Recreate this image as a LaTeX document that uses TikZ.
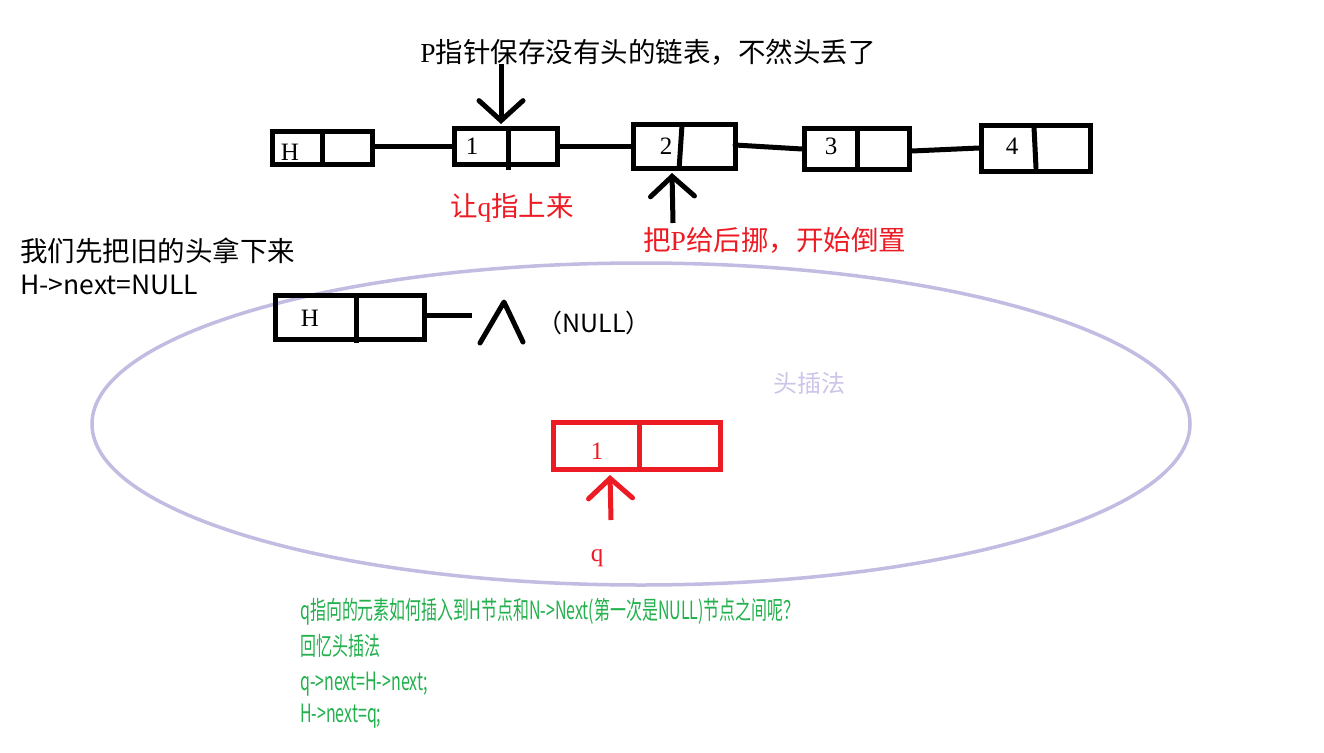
\documentclass[tikz,border=0pt]{standalone}
\usepackage{fontspec}
\usetikzlibrary{arrows.meta,calc}
\newfontfamily\cjk{Noto Sans CJK SC}
\newfontfamily\lat{Liberation Serif}
\definecolor{myred}{RGB}{237,28,36}
\definecolor{mygreen}{RGB}{34,177,76}
\definecolor{lav}{RGB}{195,187,225}
\definecolor{lavtext}{RGB}{205,196,232}
\tikzset{
  listbox/.style={draw=black, line width=5pt, rectangle, inner sep=0pt},
  redbox/.style={draw=myred, line width=5pt, rectangle, inner sep=0pt},
  link/.style={line width=5pt},
  stickarrow/.style={line width=5pt, -{Straight Barb[length=20pt,width=44pt,line cap=round]}},
  digit/.style={font=\lat\fontsize{25}{28}\selectfont, inner sep=0pt},
  blacktext/.style={font=\cjk\fontsize{27.5}{30}\selectfont, inner sep=0pt, anchor=west},
  redtext/.style={font=\cjk\fontsize{27.5}{30}\selectfont, text=myred, inner sep=0pt, anchor=west},
  greentext/.style={font=\cjk\fontsize{21}{24}\selectfont, text=mygreen, inner sep=0pt, anchor=west},
}
\begin{document}
\begin{tikzpicture}[x=1pt,y=-1pt]
\useasboundingbox (0,0) rectangle (1324,752);
\fill[white] (0,0) rectangle (1324,752);

% ellipse (head insertion area)
\draw[lav, line width=3.5pt] (641,424) ellipse [x radius=549, y radius=161];
\node[font=\cjk\fontsize{24}{28}\selectfont, text=lavtext, inner sep=0pt] (lbl) at (809,383) {头插法};

% top list
\node[listbox, minimum width=100, minimum height=33] (h1) at (322.5,148) {};
\draw[line width=5pt] (322,131) -- (322,165);
\node[digit] (th1) at (290,152) {H};

\node[listbox, minimum width=103, minimum height=36] (n1) at (506,146.5) {};
\draw[line width=5pt] (508,128) -- (508,170);
\node[digit] (t1) at (472,146) {1};

\node[listbox, minimum width=102, minimum height=44] (n2) at (684.5,146.5) {};
\draw[line width=5pt] (682,125) -- (679,170);
\node[digit] (t2) at (666,146) {2};

\node[listbox, minimum width=105, minimum height=41] (n3) at (857,149) {};
\draw[line width=5pt] (857,128) -- (857,171);
\node[digit] (t3) at (831,146) {3};

\node[listbox, minimum width=109, minimum height=46] (n4) at (1036,148.5) {};
\draw[line width=5pt, line cap=round] (1034,127) -- (1036,168);
\node[digit] (t4) at (1012,146) {4};

\draw[link] (h1.east |- 0,146) -- (n1.west |- 0,146);
\draw[link] (n1.east |- 0,146) -- (n2.west |- 0,146);
\draw[link, line cap=round] (735,145) -- (n3.west |- 0,149);
\draw[link] (n3.east |- 0,151) -- (n4.west |- 0,148);

% top label and arrow
\node[font=\cjk\fontsize{27.5}{30}\selectfont, inner sep=0pt] (ptxt) at (648,52) {{\lat P}指针保存没有头的链表，不然头丢了};
\coordinate (pa) at (501,64);
\coordinate (pb) at (501,124);
\draw[stickarrow] (pa) -- (pb);

% red label under node 1
\node[redtext] (qup) at (450,208) {让{\lat q}指上来};

% arrow up to node 2
\coordinate (qa) at (673,223);
\coordinate (qb) at (672,173);
\draw[stickarrow] (qa) -- (qb);
\node[redtext] (pmove) at (643,240) {把{\lat P}给后挪，开始倒置};

% left texts
\node[blacktext] (old) at (20,251) {我们先把旧的头拿下来};
\node[blacktext, font=\cjk\fontsize{26.5}{28}\selectfont] (hnull) at (20,285) {H->next=NULL};

% second H box
\node[listbox, minimum width=149, minimum height=44] (h2) at (350,317) {};
\draw[line width=5pt] (356,295) -- (356,343);
\node[digit] (th2) at (310,318) {H};
\coordinate (hend) at (472,315);
\draw[link] (h2.east |- 0,315) -- (hend);
\coordinate (l1) at (480,343);
\coordinate (l2) at (504,302);
\coordinate (l3) at (523,342);
\draw[line width=5pt, line cap=round, line join=round] (l1) -- (l2) -- (l3);
\node[font=\cjk\fontsize{25}{28}\selectfont, inner sep=0pt] (nulltxt) at (594,323) {（NULL）};

% red node
\node[redbox, minimum width=167, minimum height=47] (rq) at (636.5,445.5) {};
\draw[myred, line width=5pt] (639,423) -- (639,469);
\node[digit, text=myred] (tr1) at (597,451) {1};
\coordinate (ra) at (611,520);
\coordinate (rb) at (610,475);
\draw[stickarrow, myred] (ra) -- (rb);
\node[digit, text=myred] (tq) at (597,558) {q};

% green text
\node[greentext] (g1) at (300,612) {\scalebox{0.76}[1.2]{q指向的元素如何插入到H节点和N->Next(第一次是NULL)节点之间呢？}};
\node[greentext] (g2) at (300,646) {\scalebox{0.76}[1.2]{回忆头插法}};
\node[greentext] (g3) at (300,684) {\scalebox{0.76}[1.2]{q->next=H->next;}};
\node[greentext] (g4) at (300,716) {\scalebox{0.76}[1.2]{H->next=q;}};
\end{tikzpicture}
\end{document}
